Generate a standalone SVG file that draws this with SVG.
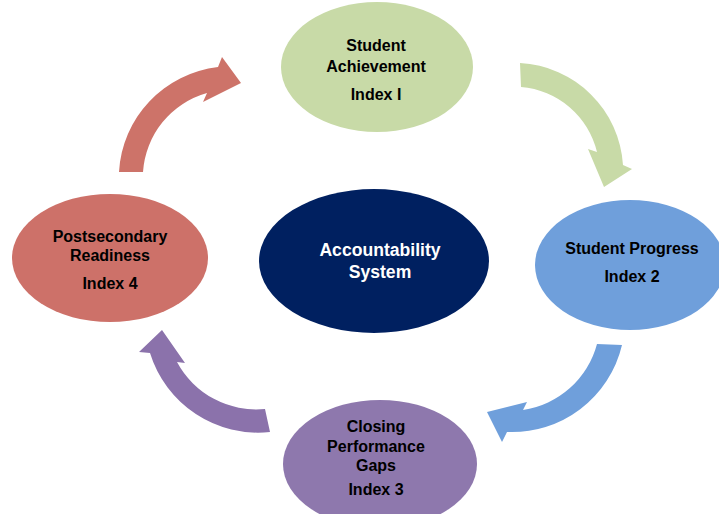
<svg xmlns="http://www.w3.org/2000/svg" width="719" height="514" viewBox="0 0 719 514">
<style>
.t{font-family:"Liberation Sans",Arial,sans-serif;font-weight:bold;font-size:16px;fill:#000;text-anchor:middle}
.w{font-family:"Liberation Sans",Arial,sans-serif;font-weight:bold;font-size:17.6px;fill:#fff;text-anchor:middle}
</style>
<rect width="719" height="514" fill="#fff"/>
<g id="connectors">
<path fill="#cd7369" d="M119 172 A112 112 0 0 1 218 67 L222 57 L241 83 L203 102 L207 93 A88 88 0 0 0 143 172 Z"/>
<path fill="#c8daa7" d="M520 63 A109 109 0 0 1 623 165 L632 169 L604 187 L588 149 L597 152 A85 85 0 0 0 521 87 Z"/>
<path fill="#6f9fdb" d="M622 345 A113 113 0 0 1 507 432 L502 442 L487 412 L527 402 L523 410 A90 90 0 0 0 597 344 Z"/>
<path fill="#8b72ab" d="M270 432 A113 113 0 0 1 150 353 L139 352 L162 330 L185 363 L177 362 A90 90 0 0 0 265 409 Z"/>
</g>
<g id="achievement">
<ellipse cx="377" cy="67" rx="96" ry="65" fill="#c8daa7"/>
<text class="t" x="376" y="51">Student</text>
<text class="t" x="376" y="72">Achievement</text>
<text class="t" x="376" y="100">Index I</text>
</g>
<g id="progress">
<ellipse cx="630" cy="265" rx="95" ry="65" fill="#6f9fdb"/>
<text class="t" x="632" y="254">Student Progress</text>
<text class="t" x="632" y="282">Index 2</text>
</g>
<g id="gaps">
<ellipse cx="380" cy="464" rx="97" ry="64" fill="#8e78ad"/>
<text class="t" x="376" y="432">Closing</text>
<text class="t" x="376" y="452">Performance</text>
<text class="t" x="376" y="471">Gaps</text>
<text class="t" x="376" y="495">Index 3</text>
</g>
<g id="readiness">
<ellipse cx="110" cy="258" rx="98" ry="64" fill="#cd7169"/>
<text class="t" x="110" y="242">Postsecondary</text>
<text class="t" x="110" y="261">Readiness</text>
<text class="t" x="110" y="289">Index 4</text>
</g>
<g id="center">
<ellipse cx="374" cy="261" rx="115" ry="72" fill="#002060"/>
<text class="w" x="380" y="256">Accountability</text>
<text class="w" x="380" y="278">System</text>
</g>
</svg>
